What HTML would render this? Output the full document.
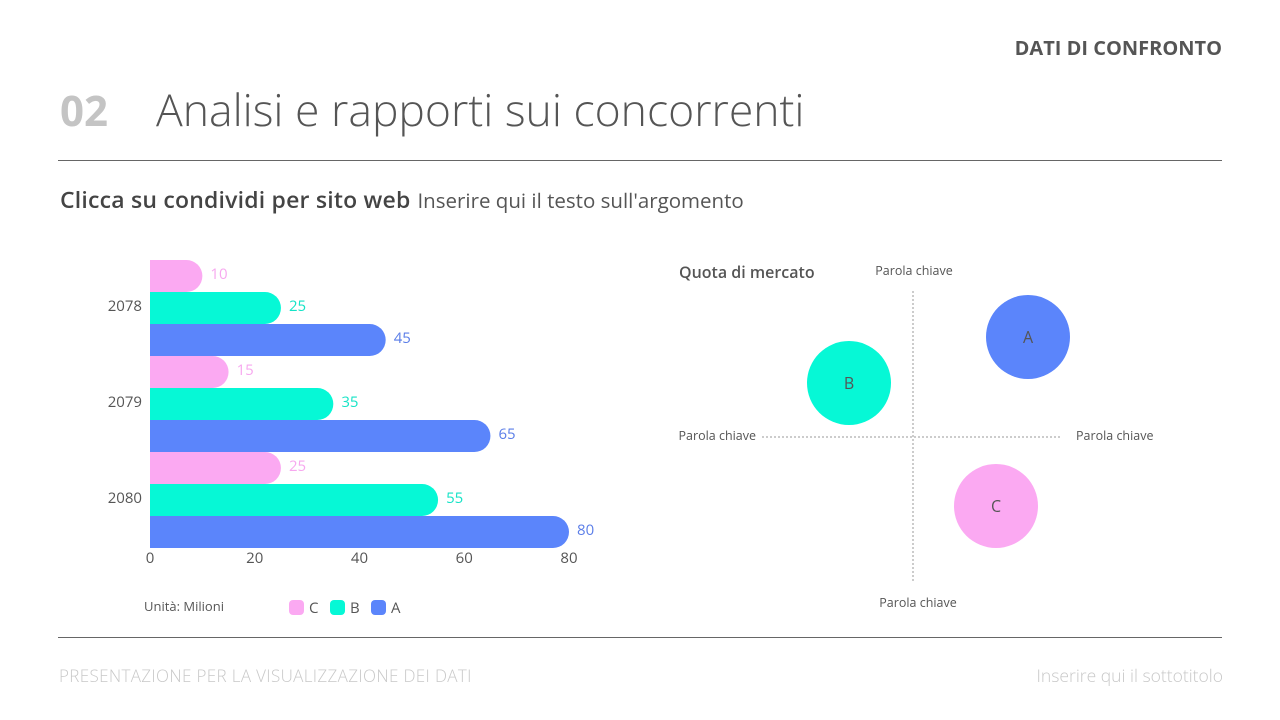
<!DOCTYPE html>
<html><head><meta charset="utf-8"><style>
body{margin:0;width:1280px;height:720px;background:#fff;font-family:"Open Sans","Liberation Sans",sans-serif;overflow:hidden;position:relative}
.a{position:absolute;white-space:nowrap}
svg text{font-family:"Open Sans","Liberation Sans",sans-serif}
</style></head><body>
<div class="a" style="right:58px;top:34px;font-size:20px;font-weight:bold;color:#555">DATI DI CONFRONTO</div>
<div class="a" style="left:60px;top:82px;font-size:42px;font-weight:bold;color:#c4c4c4">02</div>
<div class="a" style="left:156px;top:79px;font-size:44.5px;color:#555;font-weight:300">Analisi e rapporti sui concorrenti</div>
<div class="a" style="left:58px;top:160px;width:1164px;height:1px;background:#666"></div>
<div class="a" style="left:60px;top:183px;font-size:23px;color:#444"><span style="font-weight:600;letter-spacing:0.2px">Clicca su condividi per sito web</span> <span style="font-size:20.5px;color:#555;margin-left:1px">Inserire qui il testo sull'argomento</span></div>
<svg class="a" style="left:0;top:0" width="1280" height="720" id="svg"></svg>
<div class="a" style="left:58px;top:637px;width:1164px;height:1px;background:#666"></div>
<div class="a" style="left:59px;top:664px;font-size:17px;color:#c8c8c8;font-weight:300;letter-spacing:0.35px">PRESENTAZIONE PER LA VISUALIZZAZIONE DEI DATI</div>
<div class="a" style="right:57px;top:664px;font-size:17.5px;color:#c8c8c8;font-weight:300">Inserire qui il sottotitolo</div>
<script>
const categories=["2078","2079","2080"];
const seriesNames=["C","B","A"];
const valuesC=[10,15,25];
const valuesB=[25,35,55];
const valuesA=[45,65,80];
const xTicks=[0,20,40,60,80];
const bubbleNames=["A","B","C"];
const bubbleX=[11.5,-6.4,8.3];
const bubbleY=[10,5.4,-6.9];
const colors={C:"#fba9f2",B:"#06f8d6",A:"#5b85fb"};
const labelColors={C:"#f7a8ef",B:"#15e3c6",A:"#5b7ee8"};
const NS="http://www.w3.org/2000/svg",svg=document.getElementById('svg');
function mk(t,a,txt){const e=document.createElementNS(NS,t);for(const k in a)e.setAttribute(k,a[k]);if(txt!=null)e.textContent=txt;svg.appendChild(e);return e;}
const x0=150,xScale=v=>x0+v*(569-150)/80;
const top0=260,band=96,barH=32;
const yBar=(ci,si)=>top0+ci*band+si*barH;
const series=[valuesC,valuesB,valuesA];
categories.forEach((c,ci)=>{
  const t=mk('text',{x:142,y:yBar(ci,1)+barH/2+3,'text-anchor':'end','font-size':15,fill:'#555'},c);
  
  series.forEach((vals,si)=>{
    const n=seriesNames[si],y=yBar(ci,si),w=xScale(vals[ci])-x0,r=barH/2;
    const p=mk('path',{d:`M${x0},${y}H${x0+w-r}A${r},${r} 0 0 1 ${x0+w-r},${y+barH}H${x0}Z`,fill:colors[n]});
    
    const l=mk('text',{x:x0+w+8,y:y+r+3,'font-size':15,fill:labelColors[n]},vals[ci]);
    
  });
});
xTicks.forEach(v=>{const t=mk('text',{x:xScale(v),y:563,'text-anchor':'middle','font-size':15,fill:'#555'},v);
});
let u=mk('text',{x:144,y:611,'font-size':13,fill:'#555'},'Unità: Milioni');

seriesNames.forEach((n,i)=>{const lx=289+i*41;
  const r=mk('rect',{x:lx,y:600,width:15,height:15,rx:4,fill:colors[n]});
  
  const t=mk('text',{x:lx+20,y:613,'font-size':15,fill:'#555'},n);
  });
const cx=913,cy=437,bs=10,bx=v=>cx+v*bs,by=v=>cy-v*bs;
let q=mk('text',{x:679,y:278,'font-size':16,fill:'#555','font-weight':600},'Quota di mercato');

let v=mk('line',{x1:cx,y1:291,x2:cx,y2:582,stroke:'#bbb','stroke-width':1.5,'stroke-dasharray':'2 2'});

let h=mk('line',{x1:762,y1:cy,x2:1062,y2:cy,stroke:'#bbb','stroke-width':1.5,'stroke-dasharray':'2 2'});

[[914,275,'middle'],[918,607,'middle'],[756,440,'end'],[1076,440,'start']].forEach(a=>{
  const t=mk('text',{x:a[0],y:a[1],'text-anchor':a[2],'font-size':12.5,fill:'#555'},'Parola chiave');
  });
bubbleNames.forEach((n,i)=>{
  const c=mk('circle',{cx:bx(bubbleX[i]),cy:by(bubbleY[i]),r:42,fill:colors[n]});
  
  const t=mk('text',{x:bx(bubbleX[i]),y:by(bubbleY[i])+6,'text-anchor':'middle','font-size':16,fill:'#555'},n);
  });
</script>
</body></html>
